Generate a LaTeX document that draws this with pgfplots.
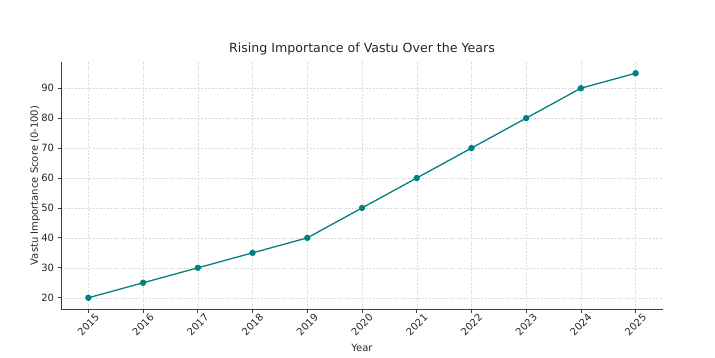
\documentclass[border=0pt]{standalone}
\usepackage{pgfplots}
\pgfplotsset{compat=1.18}
\usepackage{fontspec}
\setmainfont{DejaVu Sans}
\definecolor{tealline}{HTML}{008080}
\definecolor{txt}{HTML}{262626}
\begin{document}
\begin{tikzpicture}[x=1pt,y=1pt]
\useasboundingbox (0,0) rectangle (715,357);
\begin{axis}[
  at={(61pt,48pt)}, anchor=south west,
  width=602pt, height=247pt, scale only axis,
  xmin=2014.5, xmax=2025.5, ymin=16.25, ymax=98.75,
  axis x line*=bottom, axis y line*=left,
  axis line style={draw=black!75, line width=0.8pt, -},
  xtick={2015,2016,2017,2018,2019,2020,2021,2022,2023,2024,2025},
  ytick={20,30,40,50,60,70,80,90},
  /pgf/number format/assume math mode=true,
  /pgf/number format/1000 sep={},
  tick align=outside, major tick length=3.5pt,
  tick style={draw=black!75, line width=0.8pt},
  every tick label/.append style={font=\fontsize{10}{12}\selectfont, text=txt},
  x tick label style={yshift=-12pt, rotate=45, anchor=center},
  grid=major,
  major grid style={dash pattern=on 2pt off 1.5pt, draw=gray!30, line width=0.45pt},
  title={Rising Importance of Vastu Over the Years},
  title style={at={(axis description cs:0.5,1)}, anchor=base, yshift=3.5pt,
    font=\fontsize{12.6}{14}\selectfont, text=txt},
  xlabel={Year},
  ylabel={Vastu Importance Score (0-100)},
  xlabel style={at={(axis description cs:0.5,-0.158)}, anchor=center},
  ylabel style={at={(axis description cs:-0.043,0.5)}, anchor=center},
  label style={font=\fontsize{10}{12}\selectfont, text=txt},
  clip=false,
]
\addplot[color=tealline, line width=1.3pt, mark=*, mark size=2.5pt,
  mark options={fill=tealline, draw=tealline}] coordinates {
  (2015,20) (2016,25) (2017,30) (2018,35) (2019,40) (2020,50)
  (2021,60) (2022,70) (2023,80) (2024,90) (2025,95)
};
\end{axis}
\end{tikzpicture}
\end{document}
